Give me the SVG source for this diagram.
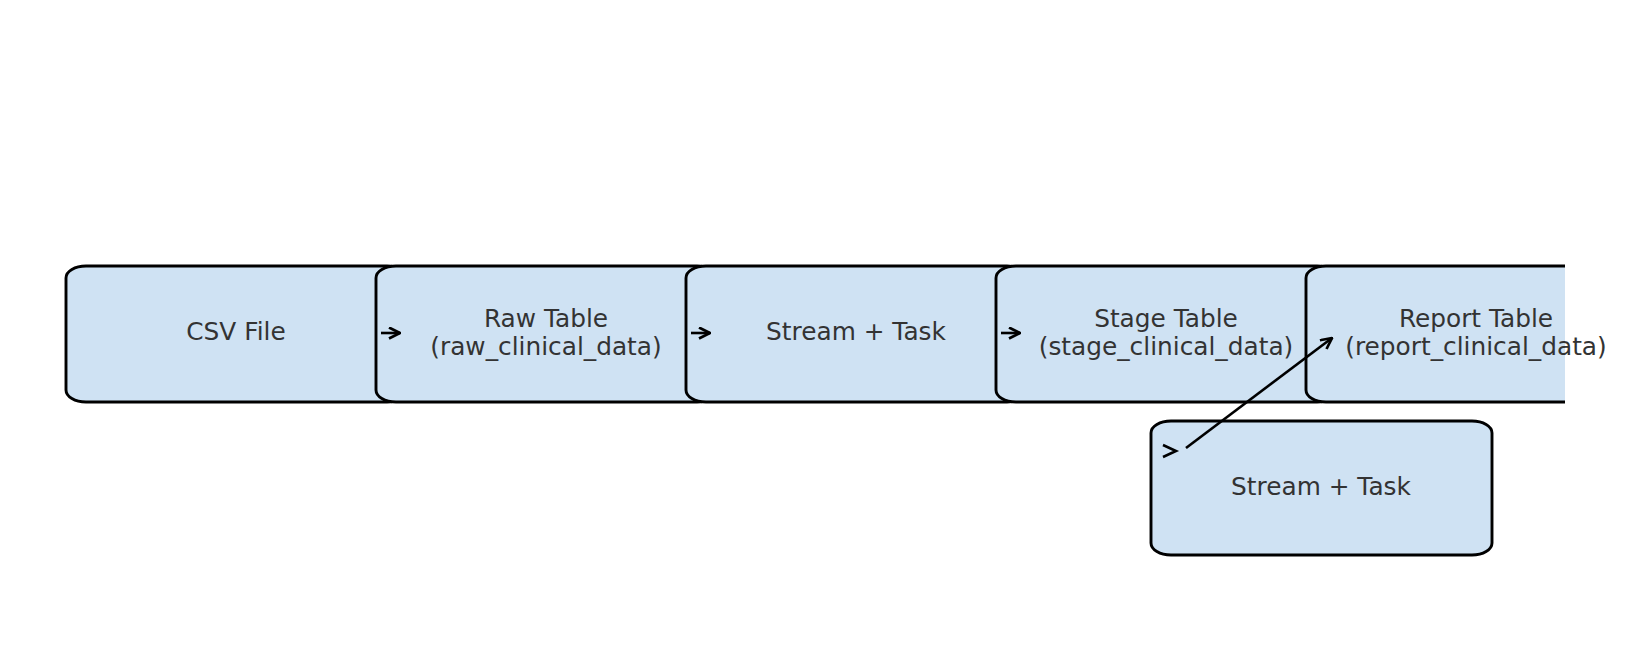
<svg xmlns="http://www.w3.org/2000/svg" width="1628" height="656" viewBox="0 0 1628 656">
<style>
.box{fill:#cfe2f3;stroke:#000;stroke-width:2.9}
.lbl{font-family:"DejaVu Sans",sans-serif;font-size:24.8px;fill:#333;text-anchor:middle}
.con{fill:none;stroke:#000;stroke-width:2.6}
</style>
<defs>
<clipPath id="ax"><rect x="0" y="0" width="1565" height="656"/></clipPath>
<marker id="ah" viewBox="0 0 13 13" refX="12" refY="6.5" markerWidth="13" markerHeight="13" markerUnits="userSpaceOnUse" orient="auto">
<path d="M1,1 L12,6.5 L1,12" fill="none" stroke="#000" stroke-width="2.7"/>
</marker>
</defs>
<rect width="1628" height="656" fill="#fff"/>
<g clip-path="url(#ax)">
<g id="csv"><rect class="box" x="66" y="266" width="341" height="136" rx="20" ry="12"/>
<text class="lbl" x="236" y="340">CSV File</text></g>
<g id="raw"><rect class="box" x="376" y="266" width="341" height="136" rx="20" ry="12"/>
<text class="lbl" x="546" y="327">Raw Table</text><text class="lbl" x="546" y="355">(raw_clinical_data)</text></g>
<g id="stream1"><rect class="box" x="686" y="266" width="341" height="136" rx="20" ry="12"/>
<text class="lbl" x="856" y="340">Stream + Task</text></g>
<g id="stage"><rect class="box" x="996" y="266" width="341" height="136" rx="20" ry="12"/>
<text class="lbl" x="1166" y="327">Stage Table</text><text class="lbl" x="1166" y="355">(stage_clinical_data)</text></g>
<g id="report"><rect class="box" x="1306" y="266" width="341" height="136" rx="20" ry="12"/></g>
</g>
<g id="report-label"><text class="lbl" x="1476" y="327">Report Table</text><text class="lbl" x="1476" y="355">(report_clinical_data)</text></g>
<g id="stream2"><rect class="box" x="1151" y="421" width="341" height="134" rx="20" ry="12"/>
<text class="lbl" x="1321" y="495">Stream + Task</text></g>
<g id="connectors">
<path class="con" d="M381,333 L400,333" marker-end="url(#ah)"/>
<path class="con" d="M691,333 L710,333" marker-end="url(#ah)"/>
<path class="con" d="M1001,333 L1020,333" marker-end="url(#ah)"/>
<path class="con" d="M1163,445 L1176,451 L1163,457"/>
<path class="con" d="M1186,448 L1332,338" marker-end="url(#ah)"/>
</g>
</svg>
